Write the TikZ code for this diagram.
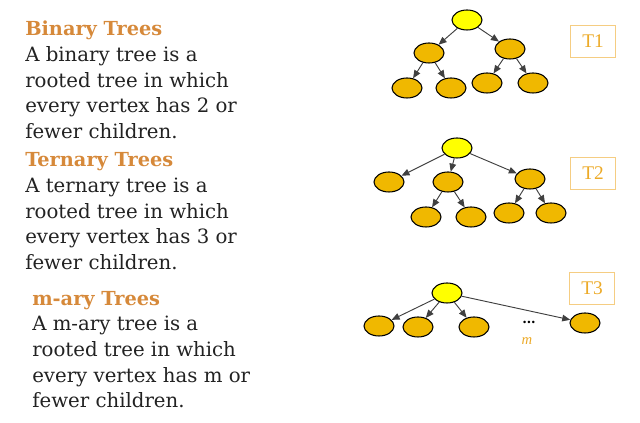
\documentclass[tikz,border=0pt]{standalone}
\usepackage{fontspec}
\setmainfont{DejaVu Serif}
\newfontfamily\tagfont{Liberation Serif}
\usetikzlibrary{arrows.meta,shapes.geometric}

\definecolor{headorange}{RGB}{214,137,58}
\definecolor{rootyellow}{RGB}{255,255,0}
\definecolor{kidgold}{RGB}{240,184,0}
\definecolor{boxorange}{RGB}{245,205,130}
\definecolor{labelorange}{RGB}{236,170,40}
\definecolor{bodygray}{RGB}{34,34,34}

\tikzset{
  root/.style={ellipse, draw=black, fill=rootyellow, minimum width=22.5pt,
    minimum height=15pt, inner sep=0pt, line width=0.8pt},
  kid/.style={root, fill=kidgold},
  edge/.style={draw=black!75, line width=0.7pt, -{Triangle[length=6pt,width=5pt]}},
  tag/.style={draw=boxorange, text=labelorange, minimum width=34pt,
    minimum height=24pt, inner sep=0pt, line width=0.6pt,
    font=\tagfont\fontsize{14.5}{14.5}\selectfont},
  head/.style={anchor=base west, text=headorange, inner sep=0pt,
    font=\bfseries\fontsize{14.5}{14.5}\selectfont},
  body/.style={anchor=base west, text=bodygray, inner sep=0pt, font=\fontsize{14.8}{14.8}\selectfont},
}

\begin{document}
\begin{tikzpicture}[x=0.75pt,y=-0.75pt]
    \useasboundingbox (0,0) rectangle (640,423);

    % text on the left
    \node[head] (bhead) at (25,36) {Binary Trees};
    \foreach \txt [count=\i] in {A binary tree is a, rooted tree in which,
        every vertex has 2 or, fewer children.}
        \node[body] (btext\i) at (25,{62+25.4*(\i-1)}) {\txt};
    \node[head] (thead) at (25,167) {Ternary Trees};
    \foreach \txt [count=\i] in {A ternary tree is a, rooted tree in which,
        every vertex has 3 or, fewer children.}
        \node[body] (ttext\i) at (25,{193+25.4*(\i-1)}) {\txt};
    \node[head] (mhead) at (32,306) {m-ary Trees};
    \foreach \txt [count=\i] in {A m-ary tree is a, rooted tree in which,
        every vertex has m or, fewer children.}
        \node[body] (mtext\i) at (32,{331+25.6*(\i-1)}) {\txt};

    % T1
    \node[root] (r1) at (467,20) {};
    \node[kid] (p1) at (429,53) {};
    \node[kid] (q1) at (510,49) {};
    \node[kid] (p1a) at (407,88) {};
    \node[kid] (p1b) at (451,88) {};
    \node[kid] (q1a) at (487,83) {};
    \node[kid] (q1b) at (533,83) {};
    \foreach \s/\t in {r1/p1, r1/q1, p1/p1a, p1/p1b, q1/q1a, q1/q1b}
        \draw[edge] (\s) -- (\t);
    \node[tag] (t1) at (593,41) {T1};

    % T2
    \node[root] (r2) at (457,148) {};
    \node[kid] (p2) at (389,182) {};
    \node[kid] (q2) at (448,182) {};
    \node[kid] (s2) at (530,179) {};
    \node[kid] (q2a) at (426,217) {};
    \node[kid] (q2b) at (471,217) {};
    \node[kid] (s2a) at (509,213) {};
    \node[kid] (s2b) at (551,213) {};
    \foreach \s/\t in {r2/p2, r2/q2, r2/s2, q2/q2a, q2/q2b, s2/s2a, s2/s2b}
        \draw[edge] (\s) -- (\t);
    \node[tag] (t2) at (593,173) {T2};

    % T3
    \node[root] (r3) at (447,293) {};
    \node[kid] (c1) at (379,326) {};
    \node[kid] (c2) at (418,327) {};
    \node[kid] (c3) at (474,327) {};
    \node[kid] (cm) at (585,323) {};
    \foreach \t in {c1, c2, c3, cm}
        \draw[edge] (r3) -- (\t);
    \node (dots) at (529,322) {\bfseries\dots};
    \node[text=labelorange, font=\tagfont\itshape\fontsize{11}{11}\selectfont] (mlabel) at (527,341) {m};
    \node[tag] (t3) at (592,288) {T3};
\end{tikzpicture}
\end{document}
